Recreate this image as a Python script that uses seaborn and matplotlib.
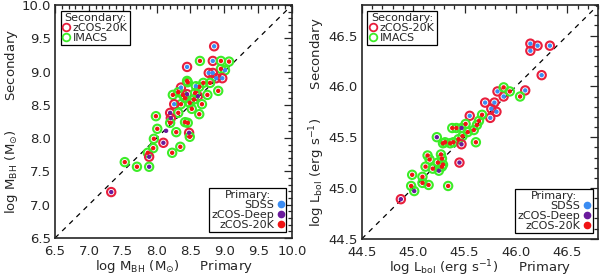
"""Primary vs secondary survey estimates of BH mass and bolometric luminosity."""

import matplotlib

matplotlib.use("Agg")
import matplotlib.pyplot as plt
import pandas as pd
import seaborn as sns
from matplotlib.lines import Line2D
from matplotlib.ticker import MultipleLocator

# left panel: log M_BH from primary and secondary spectra
mbh_primary = [8.85, 8.64, 8.83, 8.95, 9.07, 8.45, 8.95, 9.01, 8.83, 8.77,
               8.88, 8.97, 8.45, 8.36, 8.63, 8.79, 8.91, 8.46, 8.58, 8.69,
               8.24, 8.32, 8.39, 8.45, 8.61, 8.75, 8.36, 8.49, 8.67, 8.26,
               8.52, 8.63, 7.99, 8.20, 8.32, 8.21, 8.20, 8.42, 8.46, 8.01,
               8.14, 8.29, 8.48, 8.49, 7.96, 8.10, 7.95, 7.87, 8.23, 8.35,
               7.89, 7.53, 7.71, 7.89, 7.33, 8.42, 8.55, 8.57]
mbh_secondary = [9.38, 9.16, 9.16, 9.16, 9.15, 9.07, 9.04, 9.02, 8.98, 8.98,
                 8.90, 8.90, 8.86, 8.76, 8.77, 8.83, 8.71, 8.84, 8.78, 8.83,
                 8.65, 8.69, 8.65, 8.66, 8.63, 8.65, 8.51, 8.53, 8.51, 8.51,
                 8.44, 8.36, 8.33, 8.38, 8.38, 8.30, 8.23, 8.24, 8.23, 8.14,
                 8.11, 8.09, 8.08, 8.02, 7.99, 7.93, 7.85, 7.78, 7.78, 7.87,
                 7.72, 7.64, 7.57, 7.57, 7.19, 8.60, 8.58, 8.68]
mbh_psurvey = ["SDSS", "zCOS-20K", "SDSS", "zCOS-20K", "zCOS-20K", "SDSS",
               "zCOS-20K", "SDSS", "SDSS", "SDSS", "SDSS", "SDSS", "zCOS-20K",
               "SDSS", "zCOS-20K", "zCOS-20K", "zCOS-20K", "zCOS-20K", "SDSS",
               "zCOS-20K", "zCOS-20K", "zCOS-20K", "zCOS-20K", "zCOS-Deep",
               "zCOS-Deep", "zCOS-20K", "zCOS-20K", "zCOS-20K", "zCOS-20K",
               "SDSS", "zCOS-20K", "zCOS-20K", "zCOS-20K", "zCOS-Deep",
               "zCOS-20K", "zCOS-Deep", "zCOS-20K", "zCOS-20K", "zCOS-20K",
               "zCOS-20K", "zCOS-Deep", "zCOS-20K", "zCOS-Deep", "zCOS-20K",
               "zCOS-20K", "zCOS-Deep", "zCOS-20K", "zCOS-20K", "zCOS-20K",
               "zCOS-20K", "zCOS-Deep", "zCOS-20K", "zCOS-20K", "zCOS-Deep",
               "zCOS-Deep", "zCOS-20K", "zCOS-20K", "zCOS-20K"]
mbh_ssurvey = ["zCOS-20K", "IMACS", "zCOS-20K", "IMACS", "IMACS", "zCOS-20K",
               "IMACS", "IMACS", "zCOS-20K", "zCOS-20K", "zCOS-20K",
               "zCOS-20K", "IMACS", "zCOS-20K", "IMACS", "IMACS", "IMACS",
               "IMACS", "IMACS", "IMACS", "IMACS", "IMACS", "IMACS",
               "zCOS-20K", "zCOS-20K", "IMACS", "IMACS", "IMACS", "IMACS",
               "zCOS-20K", "IMACS", "IMACS", "IMACS", "zCOS-20K", "IMACS",
               "zCOS-20K", "IMACS", "IMACS", "IMACS", "IMACS", "",
               "IMACS", "zCOS-20K", "IMACS", "IMACS", "zCOS-20K", "IMACS",
               "IMACS", "IMACS", "IMACS", "zCOS-20K", "IMACS", "IMACS",
               "IMACS", "zCOS-20K", "IMACS", "IMACS", "IMACS"]

# right panel: log L_bol from primary and secondary spectra
lbol_primary = [46.14, 46.21, 46.14, 46.33, 46.25, 45.82, 46.09, 45.88, 45.70,
                45.79, 45.76, 45.81, 45.75, 45.55, 45.88, 45.94, 46.04, 45.67,
                45.64, 45.51, 45.38, 45.42, 45.59, 45.53, 45.48, 45.44, 45.39,
                45.31, 45.61, 45.29, 45.36, 45.14, 45.27, 45.16, 45.24, 45.28,
                45.12, 45.19, 44.99, 45.09, 45.09, 45.15, 44.98, 45.34, 45.28,
                45.29, 45.47, 45.23, 45.25, 45.01, 45.47, 45.45, 44.88, 45.62]
lbol_secondary = [46.42, 46.40, 46.35, 46.40, 46.11, 45.95, 45.96, 45.90, 45.84,
                  45.84, 45.78, 45.75, 45.69, 45.71, 45.99, 45.95, 45.90, 45.72,
                  45.66, 45.63, 45.59, 45.59, 45.57, 45.55, 45.51, 45.48, 45.45,
                  45.45, 45.45, 45.44, 45.44, 45.32, 45.33, 45.28, 45.25, 45.21,
                  45.21, 45.19, 45.13, 45.11, 45.05, 45.03, 45.02, 45.02, 45.29,
                  45.23, 45.59, 45.50, 45.17, 44.97, 45.43, 45.25, 44.89, 45.62]
lbol_psurvey = ["SDSS"] * 14 + ["zCOS-20K"] * 32 + ["zCOS-Deep"] * 7 + ["zCOS-20K"]
lbol_ssurvey = ["zCOS-20K"] * 14 + ["IMACS"] * 32 + ["IMACS"] * 4 + ["zCOS-20K"] * 3 + ["IMACS"]

ring_colors = {"zCOS-20K": "#e81e3c", "IMACS": "#3cec28"}
dot_colors = {"SDSS": "#3a8cf2", "zCOS-Deep": "#6a1a9c", "zCOS-20K": "#f01414"}


def draw_panel(ax, df, lo, hi, xlabel, ylabel):
    """Ringed scatter: ring = secondary survey, dot = primary survey."""
    rings = df[df["sec"] != ""]
    sns.scatterplot(data=rings, x="x", y="y", hue="sec", palette=ring_colors,
                    s=36, linewidth=0, legend=False, ax=ax)
    coll = ax.collections[-1]
    coll.set_edgecolors(coll.get_facecolors())
    coll.set_facecolors("none")
    coll.set_linewidths(1.5)
    sns.scatterplot(data=df, x="x", y="y", hue="prim", palette=dot_colors,
                    s=10, linewidth=0, legend=False, ax=ax)
    ax.plot([lo, hi], [lo, hi], color="black", lw=0.9, ls=(0, (4, 4)), zorder=0)

    ax.set_xlim(lo, hi)
    ax.set_ylim(lo, hi)
    for axis in (ax.xaxis, ax.yaxis):
        axis.set_major_locator(MultipleLocator(0.5))
        axis.set_minor_locator(MultipleLocator(0.1))
        axis.set_major_formatter("{x:.1f}")
    ax.tick_params(which="both", direction="in", top=True, right=True,
                   labelsize=9.5, width=0.9, pad=3)
    ax.tick_params(axis="x", which="both", pad=5)
    ax.tick_params(which="major", length=6)
    ax.tick_params(which="minor", length=3)
    for sp in ax.spines.values():
        sp.set_linewidth(1.2)
    ax.set_xlabel(xlabel, fontsize=9.5, labelpad=0)
    ax.set_ylabel(ylabel, fontsize=9.5, labelpad=1)

    legend_kw = dict(fontsize=8, title_fontsize=8, handlelength=0.6,
                     handletextpad=0.3, borderpad=0.2, labelspacing=0.0,
                     fancybox=False, edgecolor="black", framealpha=1,
                     borderaxespad=0.5)
    sec_handles = [Line2D([], [], ls="none", marker="o", ms=5.5, mfc="none",
                          mec=ring_colors[k], mew=1.3) for k in ring_colors]
    leg = ax.legend(sec_handles, list(ring_colors), title="Secondary:",
                    loc="upper left", **legend_kw)
    leg.get_frame().set_linewidth(0.9)
    ax.add_artist(leg)

    prim_handles = [Line2D([], [], ls="none", marker="o", ms=4.5, mfc=c, mec=c)
                    for c in dot_colors.values()]
    leg2 = ax.legend(prim_handles, list(dot_colors), title="Primary:",
                     loc="lower right", markerfirst=False, **legend_kw)
    leg2.get_frame().set_linewidth(0.9)


sns.set_style("white")
plt.rcParams["font.family"] = ["DejaVu Sans"]
plt.rcParams["mathtext.default"] = "regular"

mbh_df = pd.DataFrame({"x": mbh_primary, "y": mbh_secondary,
                       "prim": mbh_psurvey, "sec": mbh_ssurvey})
lbol_df = pd.DataFrame({"x": lbol_primary, "y": lbol_secondary,
                        "prim": lbol_psurvey, "sec": lbol_ssurvey})

fig = plt.figure(figsize=(6.0, 2.79), dpi=100)
ax1 = fig.add_axes([0.0917, 0.147, 0.395, 0.835])
ax2 = fig.add_axes([0.603, 0.144, 0.394, 0.838])

draw_panel(ax1, mbh_df, 6.5, 10.0,
           r"log M$_{BH}$ (M$_{\odot}$)     Primary",
           r"log M$_{BH}$ (M$_{\odot}$)       Secondary")
draw_panel(ax2, lbol_df, 44.5, 46.8,
           r"log L$_{bol}$ (erg s$^{-1}$)     Primary",
           r"log L$_{bol}$ (erg s$^{-1}$)       Secondary")

fig.savefig("out.png", dpi=100)
